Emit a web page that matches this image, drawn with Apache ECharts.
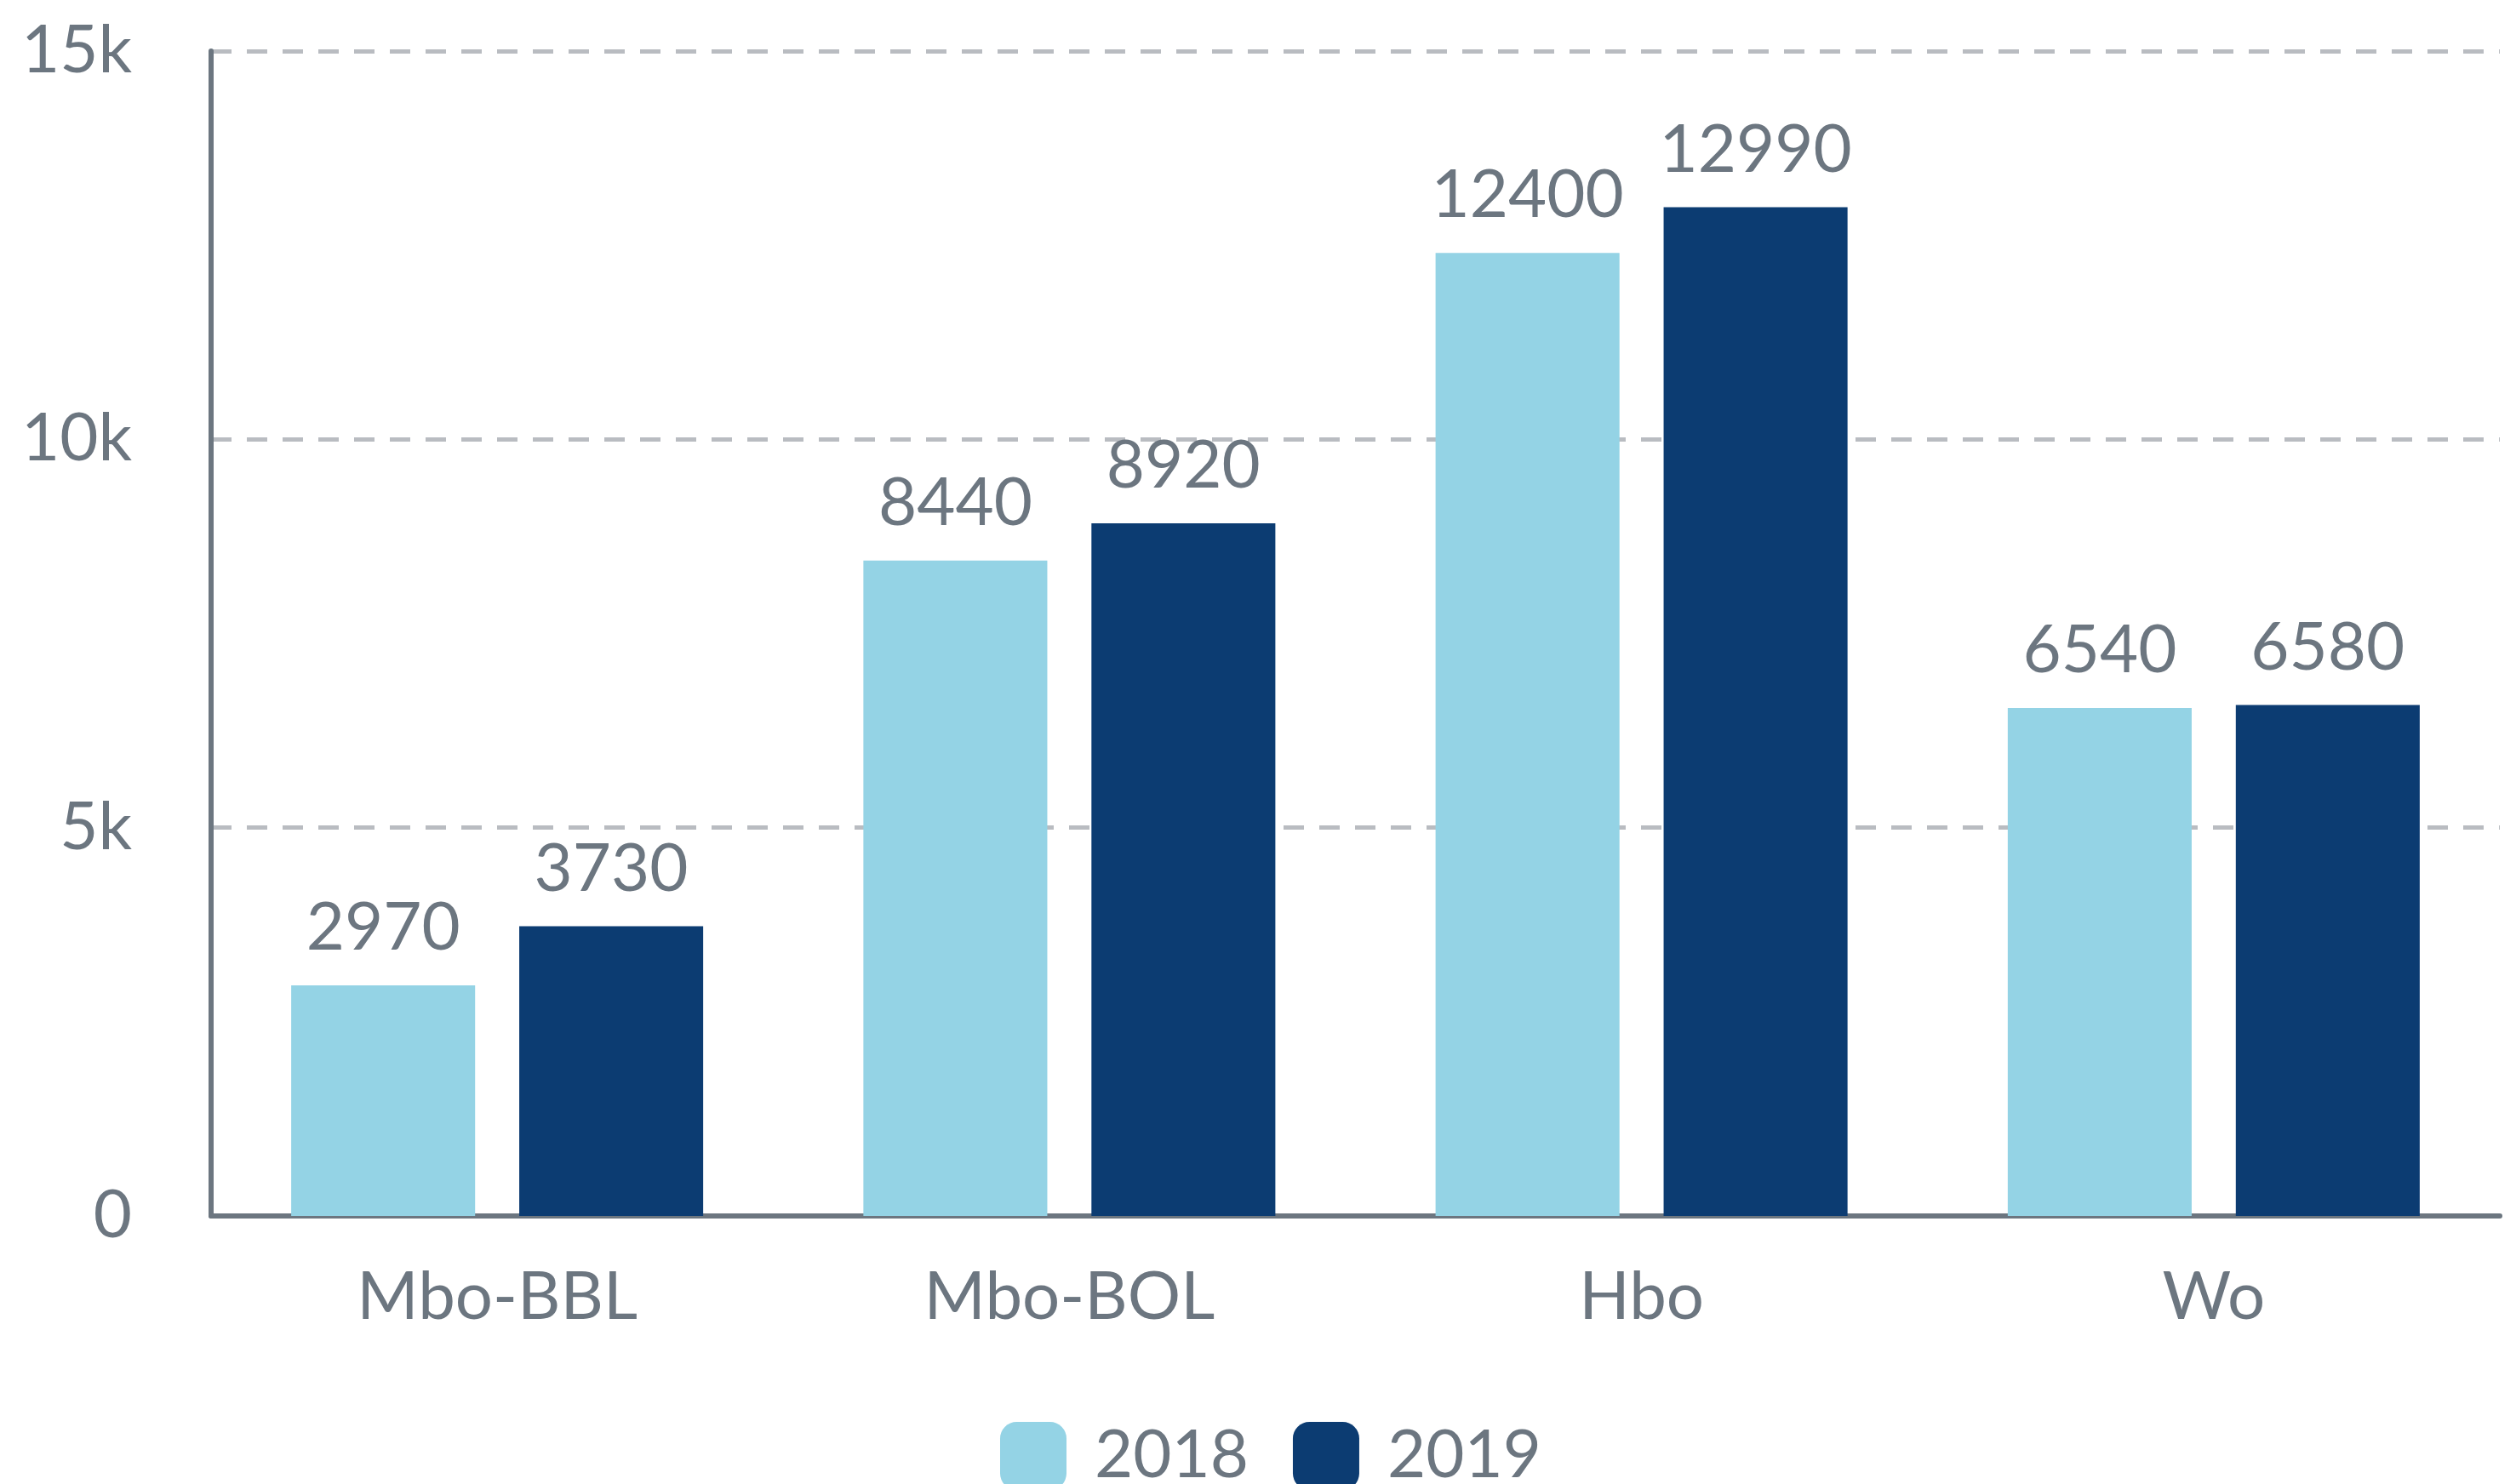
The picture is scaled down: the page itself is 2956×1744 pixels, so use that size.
<!DOCTYPE html>
<html lang="en">
<head>
    <meta charset="UTF-8">
    <title>Mbo / Hbo / Wo</title>
    <script src="https://cdn.jsdelivr.net/npm/echarts@6/dist/echarts.min.js"></script>
    <style>
        html, body { margin: 0; padding: 0; background: #fff; }
        #main { width: 2956px; height: 1744px; }
    </style>
</head>
<body>
    <div id="main"></div>
    <script>
        // categories and series
        var categories = ['Mbo-BBL', 'Mbo-BOL', 'Hbo', 'Wo'];
        var years = ['2018', '2019'];
        var values2018 = [2970, 8440, 12400, 6540];
        var values2019 = [3730, 8920, 12990, 6580];

        var textGrey = '#6c7680';
        var font = 'Lato';

        var myChart = echarts.init(document.getElementById('main'));

        var labelStyle = {
            show: true,
            position: 'top',
            distance: 28,
            color: textGrey,
            fontFamily: font,
            fontSize: 78
        };

        var option = {
            animation: false,
            grid: {
                left: 248,
                right: 19,
                top: 60,
                bottom: 315
            },
            legend: {
                data: years,
                left: 1170,
                top: 1666,
                itemWidth: 78,
                itemHeight: 80,
                itemGap: 52,
                icon: 'roundRect',
                textStyle: {
                    color: textGrey,
                    fontFamily: font,
                    fontSize: 78,
                    padding: [0, 0, 0, 28]
                }
            },
            xAxis: {
                type: 'category',
                data: categories,
                axisLine: { lineStyle: { color: textGrey, width: 6 } },
                axisTick: { show: false },
                axisLabel: {
                    margin: 57,
                    color: textGrey,
                    fontFamily: font,
                    fontSize: 78
                }
            },
            yAxis: {
                type: 'value',
                min: 0,
                max: 15000,
                interval: 5000,
                axisLine: { show: true, lineStyle: { color: textGrey, width: 6 } },
                axisTick: { show: false },
                axisLabel: {
                    margin: 93,
                    color: textGrey,
                    fontFamily: font,
                    fontSize: 78,
                    formatter: function (v) {
                        return v === 0 ? '0' : (v / 1000) + 'k';
                    }
                },
                splitLine: {
                    lineStyle: { color: '#b9bcc1', width: 5, type: [24, 18] }
                }
            },
            series: [{
                name: years[0],
                type: 'bar',
                data: values2018,
                barGap: '24%',
                barCategoryGap: '28%',
                itemStyle: { color: '#94d3e5' },
                label: labelStyle
            }, {
                name: years[1],
                type: 'bar',
                data: values2019,
                barGap: '24%',
                barCategoryGap: '28%',
                itemStyle: { color: '#0c3c72' },
                label: labelStyle
            }]
        };

        myChart.setOption(option);
    </script>
</body>
</html>
